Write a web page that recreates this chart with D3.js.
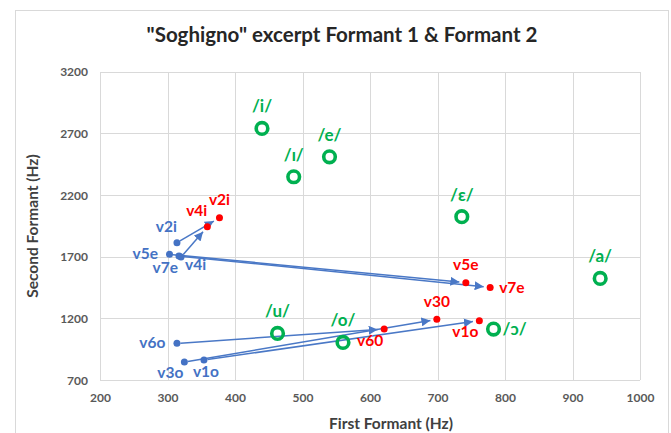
<!DOCTYPE html>
<html>
<head>
<meta charset="utf-8">
<script src="https://cdn.jsdelivr.net/npm/d3@7"></script>
<style>
  html, body { margin: 0; padding: 0; background: #fff; }
  svg { display: block; font-family: Lato, "Open Sans", "Liberation Sans", sans-serif; }
</style>
</head>
<body>
<svg id="chart" width="671" height="433"></svg>
<script>
// Reference vowel targets (F1, F2 in Hz)
const refVowels = ["/i/", "/ɪ/", "/e/", "/ɛ/", "/a/", "/u/", "/o/", "/ɔ/"];
const refF1 = [440, 487, 540, 736, 941, 463, 560, 783];
const refF2 = [2740, 2348, 2510, 2024, 1524, 1078, 1005, 1113];
const refLabelSide = ["above", "above", "above", "above", "above", "above", "above", "right"];

// Sung vowels: start of each vowel (blue) and end of each vowel (red)
const startLabels = ["v2i", "v4i", "v5e", "v7e", "v3o", "v1o", "v6o"];
const startF1 = [314, 320, 303, 317, 325, 354, 314];
const startF2 = [1813, 1697, 1719, 1705, 846, 862, 997];
const startLabelSide = ["above-left", "below-right", "left", "below-left", "below-left", "below", "left"];

const endLabels = ["v2i", "v4i", "v5e", "v7e", "v30", "v1o", "v60"];
const endF1 = [377, 359, 742, 778, 699, 762, 621];
const endF2 = [2015, 1942, 1489, 1451, 1192, 1181, 1113];
const endLabelSide = ["above", "above-left", "above", "right", "above", "below-left", "below-left"];

// Axis ticks
const xTicks = [200, 300, 400, 500, 600, 700, 800, 900, 1000];
const yTicks = [700, 1200, 1700, 2200, 2700, 3200];

const BLUE = "#4472C4", RED = "#FF0000", GREEN = "#00B050";
const GRID = "#D9D9D9", TICK_TEXT = "#595959";

const svg = d3.select("#chart");
const plot = { left: 100, right: 640, top: 71.7, bottom: 380 };

const x = d3.scaleLinear().domain([200, 1000]).range([plot.left, plot.right]);
const y = d3.scaleLinear().domain([700, 3200]).range([plot.bottom, plot.top]);

// Chart area frame
svg.append("rect")
  .attr("x", 15.5).attr("y", 10.5).attr("width", 653).attr("height", 440)
  .attr("fill", "none").attr("stroke", GRID).attr("stroke-width", 1);

// Title
svg.append("text")
  .attr("x", 342).attr("y", 42)
  .attr("text-anchor", "middle")
  .attr("font-size", 20.5).attr("font-weight", 700).attr("fill", "#262626")
  .text("\"Soghigno\" excerpt Formant 1 & Formant 2");

// Gridlines via axes
const gx = svg.append("g")
  .attr("transform", `translate(0,${plot.bottom})`)
  .call(d3.axisBottom(x).tickValues(xTicks).tickSize(-(plot.bottom - plot.top)).tickFormat(d3.format("d")).tickPadding(13));
const gy = svg.append("g")
  .attr("transform", `translate(${plot.left},0)`)
  .call(d3.axisLeft(y).tickValues(yTicks).tickSize(-(plot.right - plot.left)).tickFormat(d3.format("d")).tickPadding(12));

[gx, gy].forEach(g => {
  g.select(".domain").remove();
  g.selectAll(".tick line").attr("stroke", GRID).attr("stroke-width", 1)
    .attr("shape-rendering", "crispEdges");
  g.selectAll(".tick text")
    .attr("fill", TICK_TEXT).attr("font-size", 12).attr("font-weight", 700)
    .attr("font-family", "Lato, 'Open Sans', sans-serif");
});
gy.selectAll(".tick text").attr("dy", "0.35em");

// Left axis line
svg.append("line")
  .attr("x1", plot.left).attr("x2", plot.left)
  .attr("y1", plot.top).attr("y2", plot.bottom)
  .attr("stroke", GRID).attr("shape-rendering", "crispEdges");

// Axis titles
svg.append("text")
  .attr("x", 391).attr("y", 429)
  .attr("text-anchor", "middle")
  .attr("font-size", 15.5).attr("font-weight", 700).attr("fill", "#404040")
  .text("First Formant (Hz)");
svg.append("text")
  .attr("transform", `translate(37.5,226) rotate(-90)`)
  .attr("text-anchor", "middle")
  .attr("font-size", 15.5).attr("font-weight", 700).attr("fill", "#404040")
  .text("Second Formant (Hz)");

// Label placement helper
function place(side, r) {
  switch (side) {
    case "above":       return { anchor: "middle", dx: 0, dy: -9 - r };
    case "above-left":  return { anchor: "end", dx: 0, dy: -7 - r };
    case "below":       return { anchor: "middle", dx: 2, dy: 13 + r };
    case "below-left":  return { anchor: "end", dx: -1, dy: 13 + r };
    case "below-right": return { anchor: "start", dx: 4, dy: 9 + r };
    case "left":        return { anchor: "end", dx: -8 - r, dy: 4.5 };
    case "right":       return { anchor: "start", dx: 9, dy: 5.5 };
  }
}

// Arrow marker
const defs = svg.append("defs");
defs.append("marker")
  .attr("id", "arrow")
  .attr("viewBox", "0 0 10 10")
  .attr("refX", 10).attr("refY", 5)
  .attr("markerWidth", 6).attr("markerHeight", 6)
  .attr("markerUnits", "strokeWidth")
  .attr("orient", "auto")
  .append("path").attr("d", "M0,0 L10,5 L0,10 Z").attr("fill", "#4A78C6");

// Movement arrows from vowel start to vowel end
const moves = startLabels.map((s, i) => ({
  x1: x(startF1[i]), y1: y(startF2[i]),
  x2: x(endF1[i]), y2: y(endF2[i])
}));
svg.append("g").selectAll("line").data(moves).join("line")
  .each(function (d) {
    const dx = d.x2 - d.x1, dy = d.y2 - d.y1;
    const len = Math.hypot(dx, dy);
    const startGap = 3.5, endGap = 6.5;
    d3.select(this)
      .attr("x1", d.x1 + dx / len * startGap).attr("y1", d.y1 + dy / len * startGap)
      .attr("x2", d.x2 - dx / len * endGap).attr("y2", d.y2 - dy / len * endGap);
  })
  .attr("stroke", "#4A78C6").attr("stroke-width", 1.5)
  .attr("marker-end", "url(#arrow)");

// Reference vowel rings
const refG = svg.append("g");
refG.selectAll("circle").data(refVowels).join("circle")
  .attr("cx", (d, i) => x(refF1[i])).attr("cy", (d, i) => y(refF2[i]))
  .attr("r", 5.8).attr("fill", "none").attr("stroke", GREEN).attr("stroke-width", 3.6);
refG.selectAll("text").data(refVowels).join("text")
  .each(function (d, i) {
    const p = place(refLabelSide[i], 6);
    d3.select(this)
      .attr("x", x(refF1[i]) + p.dx).attr("y", y(refF2[i]) + p.dy - (refLabelSide[i] === "above" ? 1 : 0))
      .attr("text-anchor", p.anchor);
  })
  .attr("font-size", 17).attr("font-weight", 700).attr("fill", GREEN)
  .text(d => d);

// Start points (blue)
const startG = svg.append("g");
startG.selectAll("circle").data(startLabels).join("circle")
  .attr("cx", (d, i) => x(startF1[i])).attr("cy", (d, i) => y(startF2[i]))
  .attr("r", 3.5).attr("fill", BLUE);
startG.selectAll("text").data(startLabels).join("text")
  .each(function (d, i) {
    const p = place(startLabelSide[i], 3.5);
    d3.select(this)
      .attr("x", x(startF1[i]) + p.dx).attr("y", y(startF2[i]) + p.dy)
      .attr("text-anchor", p.anchor);
  })
  .attr("font-size", 15.5).attr("font-weight", 700).attr("fill", BLUE)
  .text(d => d);

// End points (red)
const endG = svg.append("g");
endG.selectAll("circle").data(endLabels).join("circle")
  .attr("cx", (d, i) => x(endF1[i])).attr("cy", (d, i) => y(endF2[i]))
  .attr("r", 3.5).attr("fill", RED);
endG.selectAll("text").data(endLabels).join("text")
  .each(function (d, i) {
    const p = place(endLabelSide[i], 3.5);
    d3.select(this)
      .attr("x", x(endF1[i]) + p.dx).attr("y", y(endF2[i]) + p.dy)
      .attr("text-anchor", p.anchor);
  })
  .attr("font-size", 15.5).attr("font-weight", 700).attr("fill", RED)
  .text(d => d);
</script>
</body>
</html>
